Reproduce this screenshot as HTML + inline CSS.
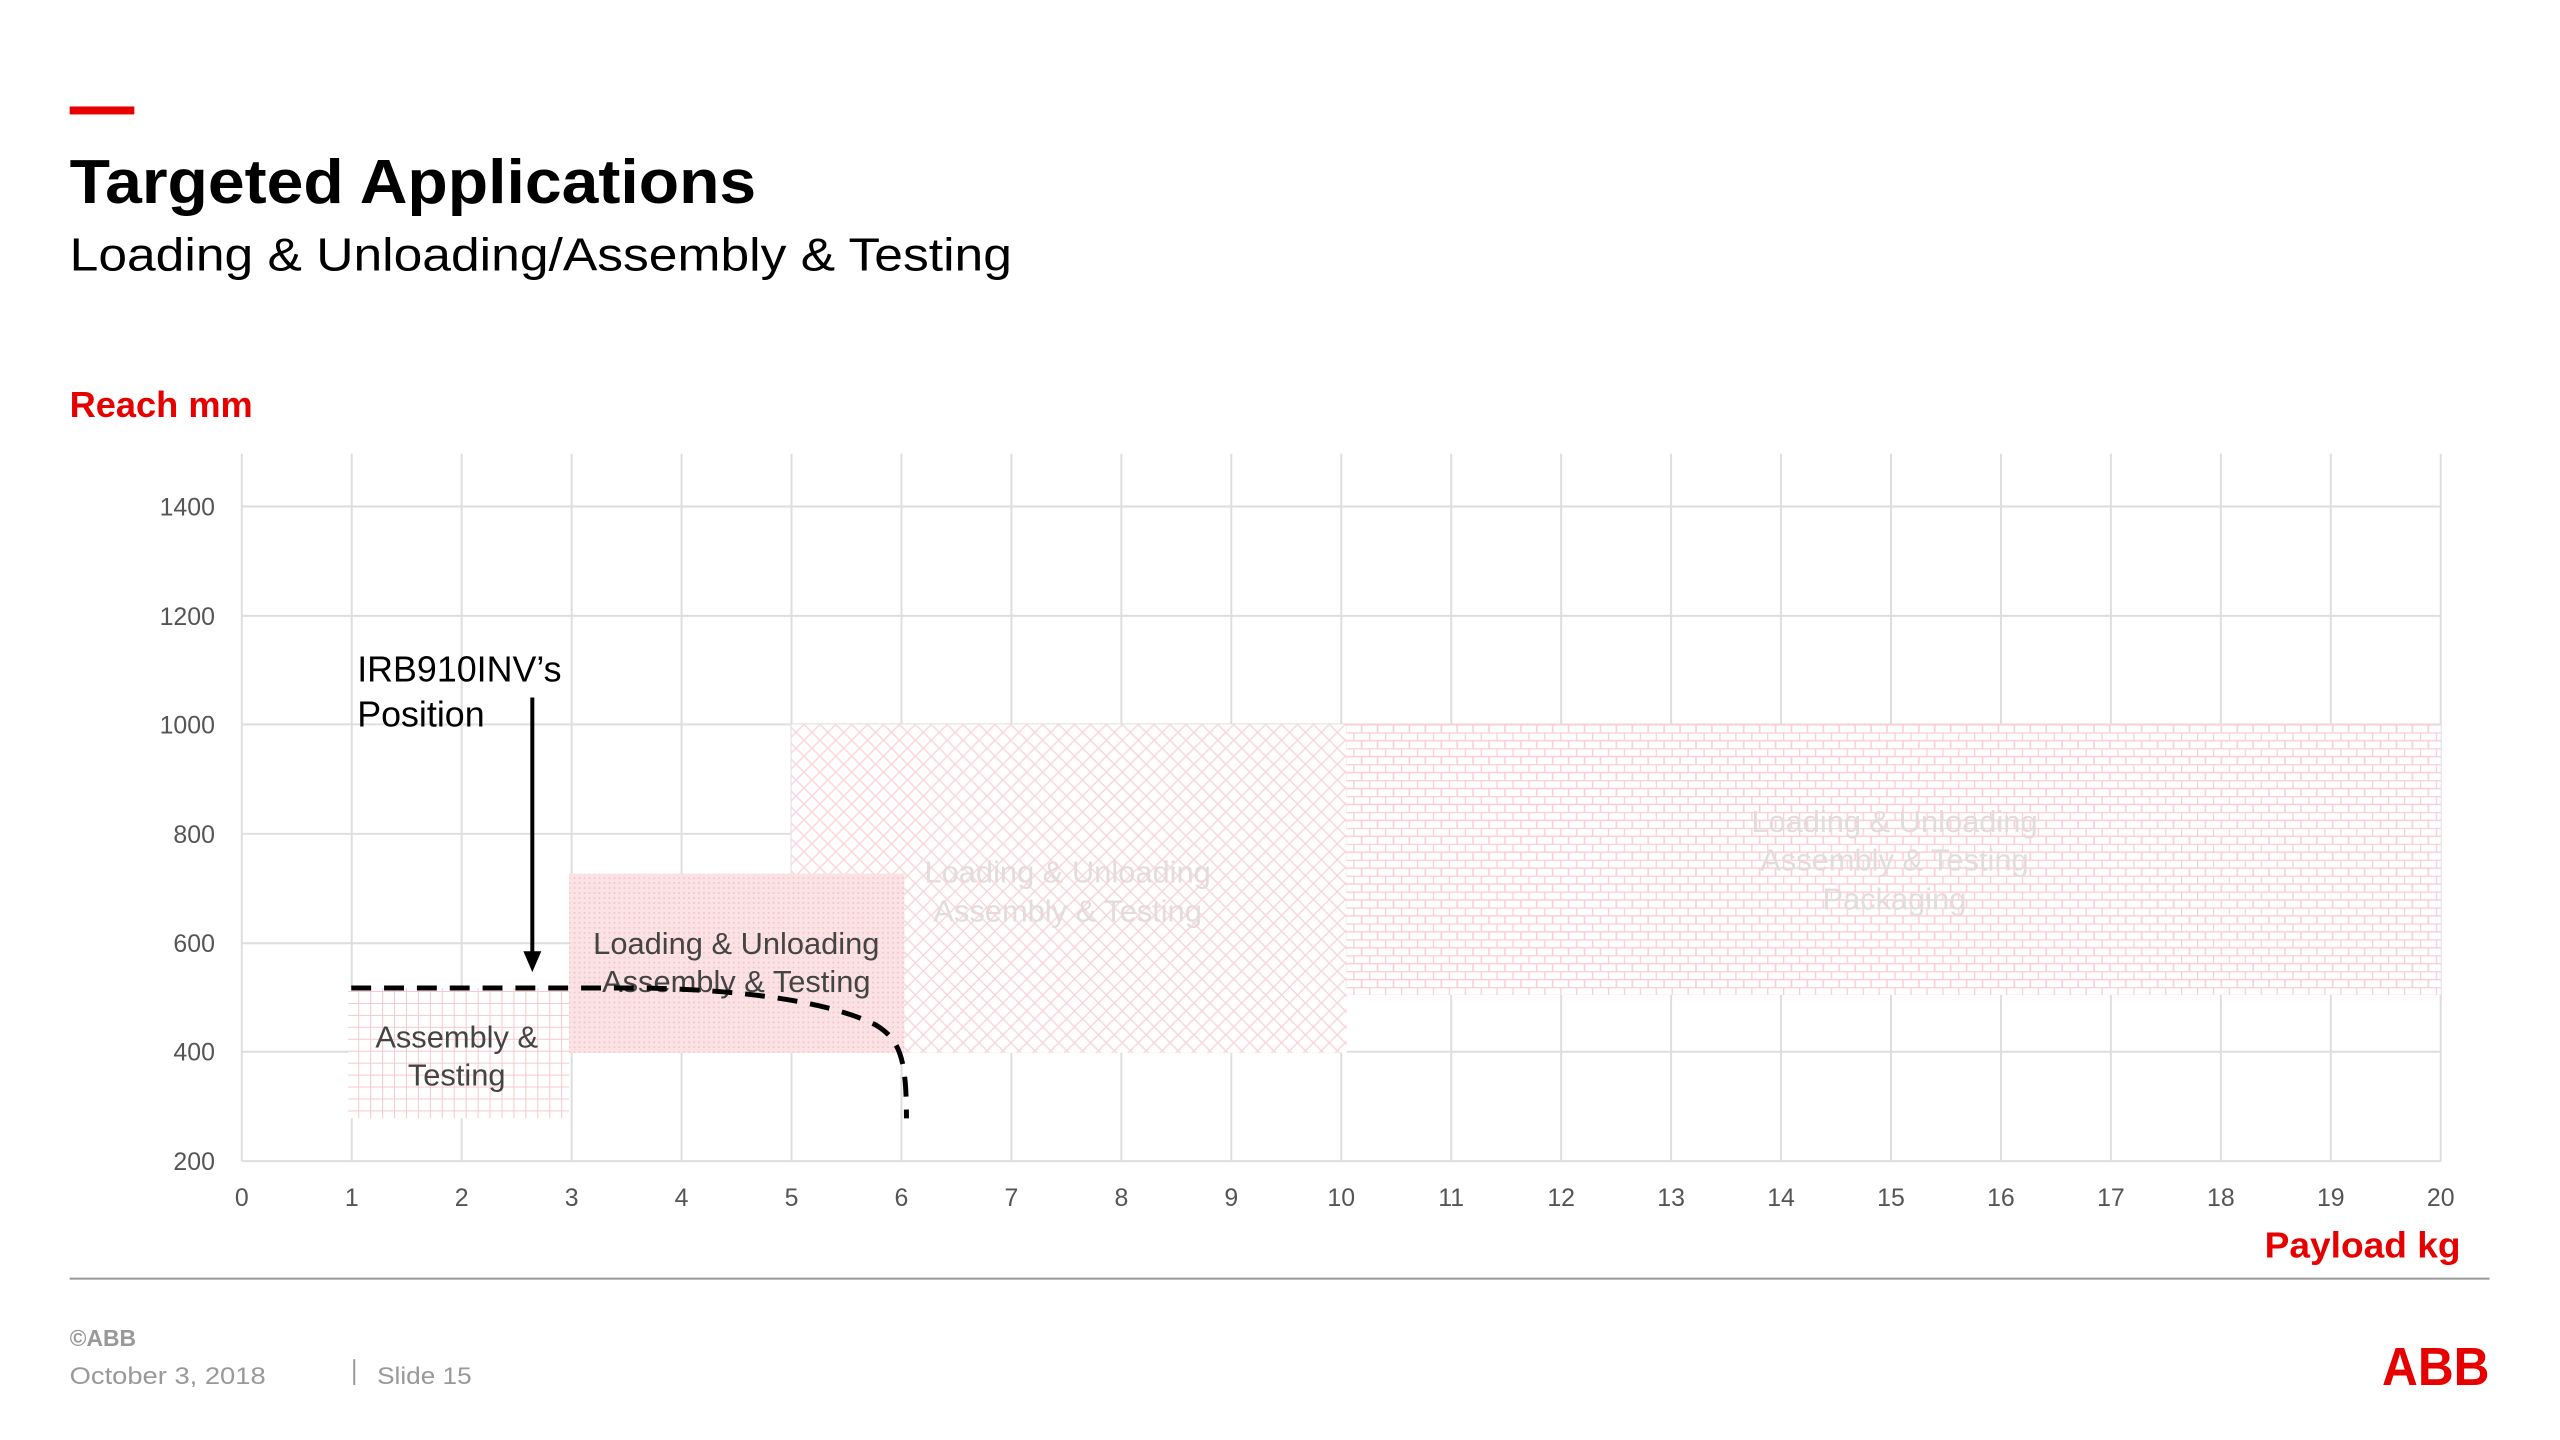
<!DOCTYPE html>
<html><head><meta charset="utf-8"><style>
html,body{margin:0;padding:0;background:#fff;}
body{width:2560px;height:1440px;position:relative;overflow:hidden;font-family:"Liberation Sans",sans-serif;}
.abs{position:absolute;white-space:nowrap;}
#wrap{position:absolute;left:0;top:0;width:2560px;height:1440px;transform:scale(0.995);transform-origin:0 0;}
</style></head><body><div id="wrap">
<div class="abs" style="left:70px;top:107px;width:65px;height:8px;background:#e60000"></div>
<svg class="abs" style="left:0;top:0" width="2560" height="1440" font-family="Liberation Sans, sans-serif">
<defs>
<pattern id="grid" width="12" height="12" patternUnits="userSpaceOnUse"><rect width="12" height="12" fill="#fff"/><path d="M0 0H12M0 0V12" stroke="#f6c9cf" stroke-width="2"/></pattern>
<pattern id="dots" width="5" height="5" patternUnits="userSpaceOnUse"><rect width="5" height="5" fill="#fbe3e5"/><circle cx="2.5" cy="2.5" r="1" fill="#f3c4ca"/></pattern>
<pattern id="diag" width="16" height="16" patternUnits="userSpaceOnUse"><rect width="16" height="16" fill="#fff"/><path d="M0 0L16 16M16 0L0 16" stroke="#fad6dc" stroke-width="1.5"/></pattern>
<pattern id="brick" width="16" height="16" patternUnits="userSpaceOnUse"><rect width="16" height="16" fill="#fff"/><path d="M0 0.5H16M0 8.5H16M0.5 0V8M8.5 8V16" stroke="#f9cfd7" stroke-width="1.6"/></pattern>
</defs>
<text x="70" y="204" font-size="62" font-weight="bold" fill="#000" textLength="690" lengthAdjust="spacingAndGlyphs">Targeted Applications</text>
<text x="70" y="272" font-size="47" fill="#000" textLength="947" lengthAdjust="spacingAndGlyphs">Loading &amp; Unloading/Assembly &amp; Testing</text>
<text x="70" y="419" font-size="36" font-weight="bold" fill="#e60000" textLength="184" lengthAdjust="spacingAndGlyphs">Reach mm</text>
<g stroke="#dedede" stroke-width="2">
<line x1="243" y1="1167" x2="2453" y2="1167"/><line x1="243" y1="1057" x2="2453" y2="1057"/><line x1="243" y1="948" x2="2453" y2="948"/><line x1="243" y1="838" x2="2453" y2="838"/><line x1="243" y1="728" x2="2453" y2="728"/><line x1="243" y1="619" x2="2453" y2="619"/><line x1="243" y1="509" x2="2453" y2="509"/>
<line x1="243" y1="456" x2="243" y2="1167"/><line x1="353.5" y1="456" x2="353.5" y2="1167"/><line x1="464" y1="456" x2="464" y2="1167"/><line x1="574.5" y1="456" x2="574.5" y2="1167"/><line x1="685" y1="456" x2="685" y2="1167"/><line x1="795.5" y1="456" x2="795.5" y2="1167"/><line x1="906" y1="456" x2="906" y2="1167"/><line x1="1016.5" y1="456" x2="1016.5" y2="1167"/><line x1="1127" y1="456" x2="1127" y2="1167"/><line x1="1237.5" y1="456" x2="1237.5" y2="1167"/><line x1="1348" y1="456" x2="1348" y2="1167"/><line x1="1458.5" y1="456" x2="1458.5" y2="1167"/><line x1="1569" y1="456" x2="1569" y2="1167"/><line x1="1679.5" y1="456" x2="1679.5" y2="1167"/><line x1="1790" y1="456" x2="1790" y2="1167"/><line x1="1900.5" y1="456" x2="1900.5" y2="1167"/><line x1="2011" y1="456" x2="2011" y2="1167"/><line x1="2121.5" y1="456" x2="2121.5" y2="1167"/><line x1="2232" y1="456" x2="2232" y2="1167"/><line x1="2342.5" y1="456" x2="2342.5" y2="1167"/><line x1="2453" y1="456" x2="2453" y2="1167"/>
</g>
<rect x="795.5" y="728" width="558" height="330" fill="url(#diag)"/>
<rect x="1353" y="728" width="1100" height="272" fill="url(#brick)"/>
<rect x="350" y="993" width="222" height="131" fill="url(#grid)"/>
<rect x="572" y="878" width="337" height="180" fill="url(#dots)"/>
<g fill="#555" font-size="25" text-anchor="end">
<text x="216" y="1176">200</text><text x="216" y="1066">400</text><text x="216" y="957">600</text><text x="216" y="847">800</text><text x="216" y="737">1000</text><text x="216" y="628">1200</text><text x="216" y="518">1400</text>
</g>
<g fill="#555" font-size="25" text-anchor="middle">
<text x="243" y="1212">0</text><text x="353.5" y="1212">1</text><text x="464" y="1212">2</text><text x="574.5" y="1212">3</text><text x="685" y="1212">4</text><text x="795.5" y="1212">5</text><text x="906" y="1212">6</text><text x="1016.5" y="1212">7</text><text x="1127" y="1212">8</text><text x="1237.5" y="1212">9</text><text x="1348" y="1212">10</text><text x="1458.5" y="1212">11</text><text x="1569" y="1212">12</text><text x="1679.5" y="1212">13</text><text x="1790" y="1212">14</text><text x="1900.5" y="1212">15</text><text x="2011" y="1212">16</text><text x="2121.5" y="1212">17</text><text x="2232" y="1212">18</text><text x="2342.5" y="1212">19</text><text x="2453" y="1212">20</text>
</g>
<g font-size="31" text-anchor="middle">
<text x="740" y="959" fill="#444">Loading &amp; Unloading</text>
<text x="740" y="997" fill="#444">Assembly &amp; Testing</text>
<text x="1073" y="887" fill="#e2dcdc">Loading &amp; Unloading</text>
<text x="1073" y="926" fill="#e2dcdc">Assembly &amp; Testing</text>
<text x="1904" y="836" fill="#e2dcdc">Loading &amp; Unloading</text>
<text x="1904" y="875" fill="#e2dcdc">Assembly &amp; Testing</text>
<text x="1904" y="914" fill="#e2dcdc">Packaging</text>
<text x="459" y="1053" fill="#444">Assembly &amp;</text>
<text x="459" y="1091" fill="#444">Testing</text>
</g>
<g font-size="36" fill="#000"><text x="359" y="685">IRB910INV’s</text><text x="359" y="730">Position</text></g>
<line x1="535" y1="701" x2="535" y2="958" stroke="#000" stroke-width="4"/>
<path d="M526 956L544 956L535 977Z" fill="#000"/>
<path d="M353 993H650C740 995 830 1005 880 1030C905 1045 911 1065 911 1124" fill="none" stroke="#000" stroke-width="5" stroke-dasharray="20 13"/>
<text x="2473" y="1264" font-size="36" font-weight="bold" fill="#e60000" text-anchor="end" textLength="197" lengthAdjust="spacingAndGlyphs">Payload kg</text>
<line x1="70" y1="1285" x2="2502" y2="1285" stroke="#999" stroke-width="2"/>
<text x="70" y="1353" font-size="23" font-weight="bold" fill="#999">©ABB</text>
<text x="70" y="1391" font-size="24" fill="#999" textLength="197" lengthAdjust="spacingAndGlyphs">October 3, 2018</text>
<line x1="356" y1="1366" x2="356" y2="1392" stroke="#999" stroke-width="2"/>
<text x="379" y="1391" font-size="24" fill="#999" textLength="95" lengthAdjust="spacingAndGlyphs">Slide 15</text>
<text x="2394" y="1392" font-size="54" font-weight="bold" fill="#e60000" textLength="108" lengthAdjust="spacingAndGlyphs">ABB</text>
</svg>
</div></body></html>
